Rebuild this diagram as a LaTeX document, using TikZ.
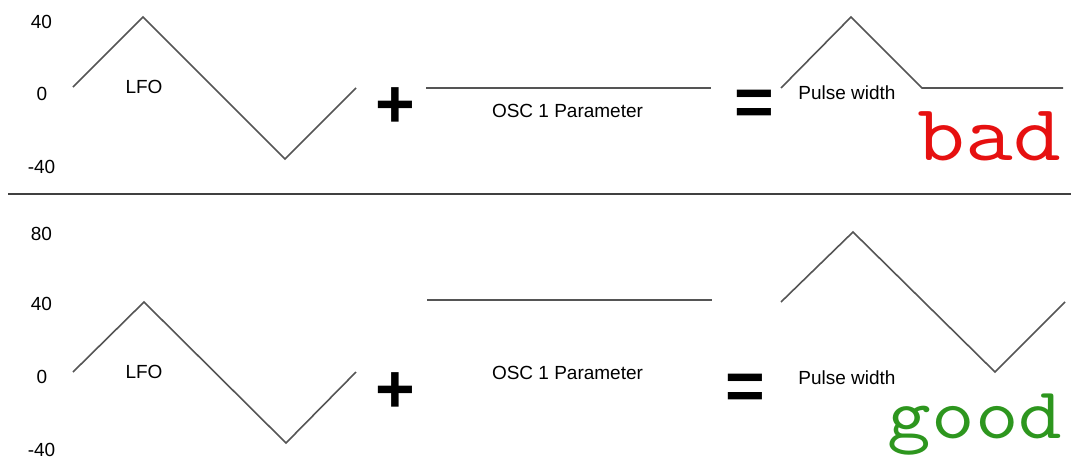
\documentclass[tikz,border=0pt]{standalone}
\usepackage{fontspec}
\setmainfont{Liberation Sans}
\usepackage{graphicx}
\usepackage{xcolor}
\definecolor{wavegray}{RGB}{85,85,85}
\definecolor{badred}{RGB}{230,16,16}
\definecolor{goodgreen}{RGB}{45,150,30}
\tikzset{wave/.style={draw=wavegray, line width=1.6pt},
 divider/.style={draw=black!75, line width=2.2pt},
 lbl/.style={inner sep=0pt, font=\fontsize{19}{19}\selectfont},
 opsign/.style={inner sep=0pt, font=\fontsize{68}{68}\selectfont\bfseries},
 verdict/.style={inner sep=0pt, anchor=base, font=\ttfamily\fontsize{80}{80}\selectfont\addfontfeature{LetterSpace=-4,FakeBold=0.6}},
 }

\begin{document}
\begin{tikzpicture}[x=1pt, y=-1pt]
        \useasboundingbox (0,0) rectangle (1071,464);
        \draw[wave] (73,87) -- (143,17) -- (285,159) -- (356,88);
        \draw[wave] (426,88) -- (711,88);
        \draw[wave] (781,88) -- (851,17) -- (922,88) -- (1063,88);
        \draw[divider] (8,194) -- (1071,194);
        \draw[wave] (73,372) -- (144,302) -- (286,443) -- (356,372);
        \draw[wave] (427,300) -- (712,300);
        \draw[wave] (781,302) -- (853,232) -- (995,372) -- (1065,302);
        \node[lbl] (tforty) at (41.5,21.5) {40};
        \node[lbl] (tzero) at (42,93.5) {0};
        \node[lbl] (tminus) at (41.5,167) {-40};
        \node[lbl] (beighty) at (41.5,233.5) {80};
        \node[lbl] (bforty) at (41.5,303.5) {40};
        \node[lbl] (bzero) at (42,377) {0};
        \node[lbl] (bminus) at (41.5,449.5) {-40};
        \node[lbl] (tlfo) at (144,87) {LFO};
        \node[lbl] (blfo) at (144,371.5) {LFO};
        \node[lbl] (tosc) at (567.5,110.5) {OSC 1 Parameter};
        \node[lbl] (bosc) at (567.5,372.5) {OSC 1 Parameter};
        \node[lbl] (tpulse) at (847,92.5) {Pulse width};
        \node[lbl] (bpulse) at (847,377.5) {Pulse width};
        \node[opsign] (tplus) at (395,107.5) {+};
        \node[opsign] (bplus) at (395,392.5) {+};
        \node[opsign] (tequal) at (754,107.5) {=};
        \node[opsign] (bequal) at (745.5,392) {=};
        \node[verdict, text=badred] (bad) at (989.5,160) {\scalebox{1.16}[1]{bad}};
        \node[verdict, text=goodgreen, font=\ttfamily\fontsize{73}{73}\selectfont\addfontfeature{LetterSpace=-4,FakeBold=0.6}] (good) at (975,438) {\scalebox{1.16}[1]{good}};
    \end{tikzpicture}
\end{document}
